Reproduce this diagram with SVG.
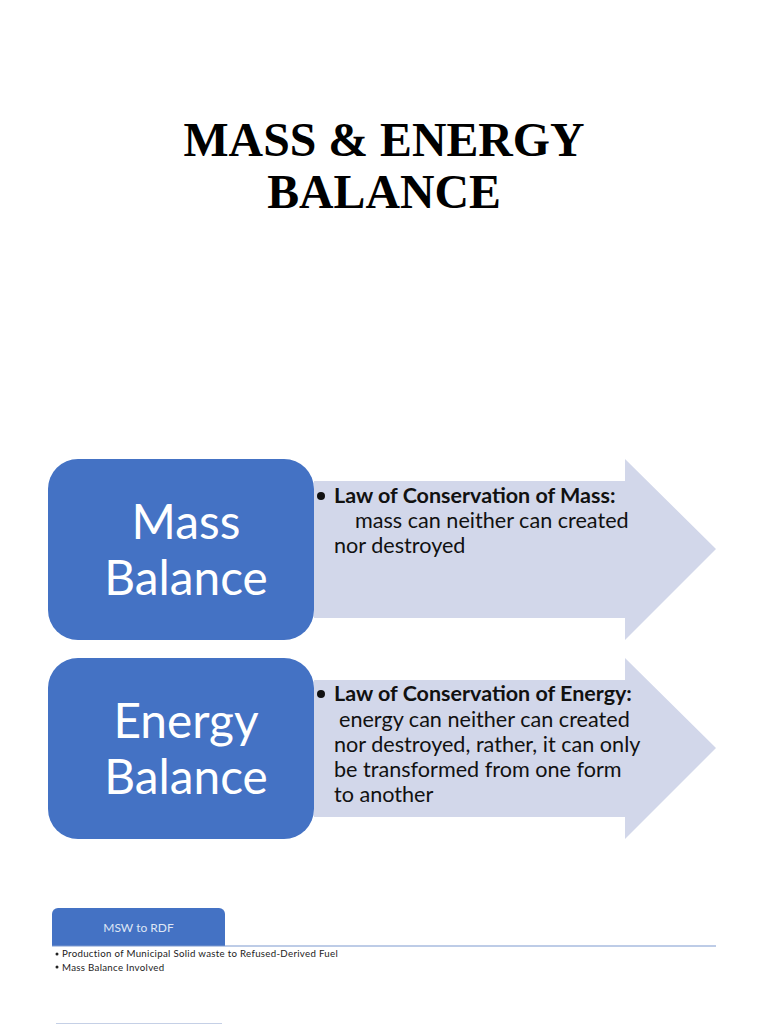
<svg xmlns="http://www.w3.org/2000/svg" width="768" height="1024" viewBox="0 0 768 1024">
<style>
.t{font-family:"Liberation Serif",serif;font-weight:bold;font-size:47.800px;fill:#000;text-anchor:middle}
.n{fill:#4472c4}
.a{fill:#d2d7ea}
.h{font-family:Lato,"Noto Sans",sans-serif;font-size:47.800px;fill:#fff;text-anchor:middle}
.b{font-family:Lato,"Noto Sans",sans-serif;font-size:21.600px;fill:#111}
.bb{font-weight:bold;font-size:21.500px}
.s{font-family:Lato,"Noto Sans",sans-serif;font-size:9.700px;fill:#222;letter-spacing:.3px}
</style>
<rect width="768" height="1024" fill="#fff"/>
<g id="title">
<text class="t" x="384" y="156">MASS &amp; ENERGY</text>
<text class="t" x="384" y="208">BALANCE</text>
</g>
<g id="mass-arrow">
<polygon class="a" points="314,481 625,481 625,459 716,549 625,640 625,618 314,618"/>
<circle cx="321" cy="496" r="4" fill="#111"/>
<text class="b bb" x="334" y="503">Law of Conservation of Mass:</text>
<text class="b" x="355" y="528">mass can neither can created</text>
<text class="b" x="334" y="553">nor destroyed</text>
</g>
<g id="mass-balance">
<rect class="n" x="48" y="459" width="266" height="181" rx="30"/>
<text class="h" x="186" y="539">Mass</text>
<text class="h" x="186" y="595">Balance</text>
</g>
<g id="energy-arrow">
<polygon class="a" points="314,680 625,680 625,658 716,748 625,839 625,817 314,817"/>
<circle cx="321" cy="694" r="4" fill="#111"/>
<text class="b bb" x="334" y="701">Law of Conservation of Energy:</text>
<text class="b" x="339" y="727">energy can neither can created</text>
<text class="b" x="334" y="752">nor destroyed, rather, it can only</text>
<text class="b" x="334" y="777">be transformed from one form</text>
<text class="b" x="334" y="802">to another</text>
</g>
<g id="energy-balance">
<rect class="n" x="48" y="658" width="266" height="181" rx="30"/>
<text class="h" x="186" y="738">Energy</text>
<text class="h" x="186" y="794">Balance</text>
</g>
<g id="msw-tab">
<path class="n" d="M52,946V914a6,6 0 0 1 6,-6H219a6,6 0 0 1 6,6V946Z"/>
<text x="138.500" y="932" font-family="Lato,'Noto Sans',sans-serif" font-size="12px" fill="#dfe6f5" text-anchor="middle">MSW to RDF</text>
</g>
<line x1="52" y1="946" x2="716" y2="946" stroke="#7d99cf" stroke-width="1"/>
<g id="msw-text">
<circle cx="57" cy="954" r="1.500" fill="#222"/>
<text class="s" x="62" y="957">Production of Municipal Solid waste to Refused-Derived Fuel</text>
<circle cx="57" cy="967" r="1.500" fill="#222"/>
<text class="s" x="62" y="971">Mass Balance Involved</text>
</g>
<line x1="56" y1="1023.500" x2="222" y2="1023.500" stroke="#c5d0e6" stroke-width="1"/>
</svg>
